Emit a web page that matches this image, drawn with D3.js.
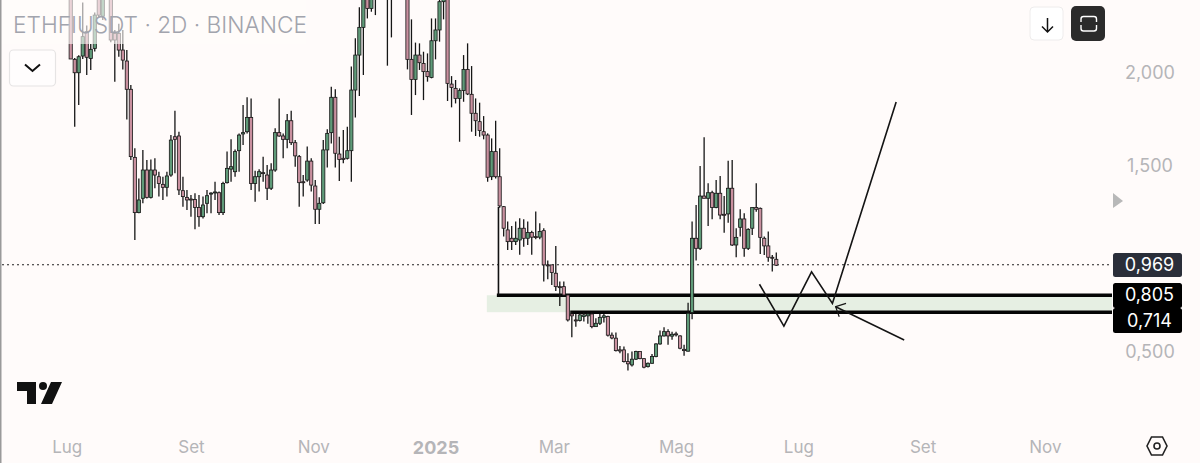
<!DOCTYPE html>
<html><head><meta charset="utf-8">
<script src="https://cdn.jsdelivr.net/npm/d3@7"></script>
<style>html,body{margin:0;padding:0;background:#fffbfa;overflow:hidden}svg{display:block}text{font-family:Inter,"Noto Sans",sans-serif}</style>
</head><body><svg id="c" width="1200" height="463"></svg>
<script>
const opens=[2.45,2.068,1.996,2.086,2.217,2.073,2.127,2.40,2.30,2.45,2.50,2.208,2.208,2.118,2.059,1.907,1.541,1.244,1.321,1.473,1.326,1.473,1.437,1.396,1.38,1.446,1.652,1.656,1.362,1.326,1.317,1.315,1.272,1.222,1.294,1.344,1.351,1.351,1.244,1.405,1.478,1.464,1.577,1.667,1.679,1.756,1.401,1.437,1.459,1.446,1.375,1.473,1.674,1.656,1.638,1.738,1.62,1.545,
1.41,1.419,1.521,1.387,1.262,1.297,1.581,1.674,1.864,1.559,1.536,1.536,1.577,1.903,2.091,2.24,2.46,2.342,2.42,2.44,2.52,2.48,2.39,2.42,2.55,2.6,2.58,2.068,1.96,2.091,2.046,2.002,1.971,2.168,2.226,2.378,2.39,1.935,1.912,1.858,1.9,2.014,1.88,1.778,1.733,1.679,1.661,1.437,1.572,1.437,
1.276,1.151,1.106,1.088,1.097,1.16,1.106,1.137,1.115,1.112,1.147,.963,.963,.918,.846,.846,.801,.699,.667,.664,.685,.689,.699,.631,.649,.681,.685,.585,.569,.506,.506,.443,.425,.456,.497,.459,.416,.434,.47,.538,.581,.604,.58,.592,.581,.509,.499,.707,
1.106,1.052,1.333,1.321,1.351,1.272,1.348,1.235,1.237,1.375,1.07,1.165,1.21,1.052,1.16,1.271,1.267,1.106,1.065,1.004,.993];
const highs=[2.50,2.075,2.09,2.373,2.25,2.15,2.32,2.45,2.5,2.55,2.55,2.226,2.26,2.226,2.118,1.93,1.59,1.428,1.581,1.527,1.53,1.536,1.464,1.437,1.464,1.661,1.792,1.679,1.437,1.366,1.339,1.348,1.339,1.33,1.366,1.353,1.41,1.357,1.41,1.572,1.638,1.584,1.67,1.822,1.864,1.858,1.469,1.477,1.545,1.5,1.509,1.697,1.858,1.67,1.774,1.792,1.634,1.554,
1.446,1.599,1.536,1.419,1.326,1.634,1.692,1.921,1.907,1.652,1.688,1.706,2.029,2.181,2.348,2.45,2.55,2.5,2.5,2.6,2.62,2.55,2.5,2.7,2.75,2.7,2.62,2.283,2.158,2.154,2.109,2.1,2.288,2.288,2.42,2.45,2.45,1.978,1.957,1.912,2.091,2.154,2.032,1.858,1.835,1.763,1.67,1.643,1.738,1.59,
1.28,1.196,1.172,1.196,1.214,1.208,1.196,1.147,1.25,1.187,1.16,.986,.963,1.065,.873,.873,.807,.712,.699,.703,.707,.707,.707,.676,.699,.699,.689,.599,.599,.527,.524,.488,.497,.502,.497,.461,.438,.484,.542,.61,.628,.617,.604,.604,.585,.533,.76,1.196,
1.285,1.495,1.649,1.402,1.362,1.419,1.441,1.333,1.523,1.527,1.16,1.262,1.24,1.16,1.272,1.402,1.271,1.115,1.142,1.016,1.029];
const lows=[2.07,1.706,1.822,2.07,1.984,2.011,2.11,2.29,2.28,2.40,2.16,1.948,2.082,2.014,1.745,1.527,1.097,1.24,1.294,1.32,1.32,1.375,1.33,1.312,1.33,1.437,1.455,1.339,1.276,1.258,1.222,1.154,1.168,1.213,1.24,1.24,1.312,1.231,1.231,1.401,1.41,1.437,1.464,1.607,1.67,1.366,1.303,1.357,1.41,1.312,1.366,1.464,1.652,1.536,1.59,1.607,1.491,1.276,
1.33,1.41,1.357,1.183,1.183,1.29,1.486,1.616,1.486,1.414,1.509,1.53,1.41,1.756,1.871,1.984,2.288,2.324,2.306,2.40,2.42,2.034,2.186,2.40,2.45,2.45,2.014,1.769,1.876,2.011,1.849,1.948,1.966,2.068,2.163,2.283,1.844,1.81,1.831,1.625,1.84,1.876,1.679,1.656,1.652,1.638,1.41,1.419,1.428,1.27,
1.115,1.043,1.043,1.07,1.017,1.061,1.07,1.017,1.101,1.101,.873,.886,.855,.823,.742,.796,.658,.574,.631,.658,.658,.646,.622,.631,.64,.653,.578,.563,.497,.488,.438,.395,.416,.452,.456,.407,.411,.431,.466,.533,.578,.533,.56,.578,.509,.474,.497,.671,
.986,1.043,1.321,1.172,1.208,1.267,1.208,1.136,1.19,1.065,1.004,1.115,1.007,1.043,1.124,1.249,1.022,1.016,.98,.927,.957];
const closes=[2.07,1.996,2.082,2.19,2.079,2.122,2.306,2.306,2.45,2.5,2.172,2.172,2.118,2.064,1.907,1.545,1.244,1.312,1.473,1.326,1.473,1.446,1.401,1.38,1.441,1.634,1.638,1.366,1.33,1.312,1.312,1.272,1.222,1.285,1.335,1.349,1.355,1.244,1.401,1.482,1.491,1.572,1.661,1.674,1.756,1.401,1.437,1.464,1.455,1.375,1.473,1.674,1.656,1.638,1.738,1.62,1.549,1.405,
1.406,1.521,1.392,1.262,1.294,1.581,1.67,1.864,1.563,1.53,1.53,1.577,1.903,2.091,2.24,2.39,2.342,2.42,2.44,2.52,2.48,2.39,2.40,2.55,2.6,2.58,2.068,1.96,2.091,2.05,2.002,1.975,2.168,2.226,2.378,2.39,1.939,1.917,1.858,1.9,2.014,1.882,1.778,1.738,1.685,1.661,1.434,1.572,1.437,1.28,
1.16,1.088,1.088,1.106,1.16,1.106,1.137,1.112,1.11,1.142,.963,.959,.922,.846,.844,.801,.667,.689,.662,.694,.694,.699,.631,.649,.681,.689,.585,.57,.502,.5,.443,.431,.456,.497,.459,.413,.434,.47,.538,.581,.604,.581,.59,.588,.515,.502,.703,1.106,
1.052,1.333,1.321,1.351,1.272,1.348,1.231,1.231,1.375,1.07,1.111,1.21,1.052,1.154,1.271,1.262,1.111,1.065,1.004,1,.961];
const zoneHigh=0.805, zoneLow=0.714, lastPrice=0.969;
const priceTicks=[2,1.5,0.5];
const monthTicks=["2024-07-01","2024-09-01","2024-11-01","2025-01-01","2025-03-01","2025-05-01","2025-07-01","2025-09-01","2025-11-01"];
const monthLabels=["Lug","Set","Nov","2025","Mar","Mag","Lug","Set","Nov"];
const zigzagIdx=[171.8,177.9,184.8,190,205.9], zigzagPrice=[.859,.634,.926,.756,1.839];
const arrowIdx=[207.9,190.8], arrowPrice=[.559,.738];
const arrowHeadIdx=[193.4,190.8,191.7], arrowHeadPrice=[.756,.738,.684];
const stemIdx=106.7, stemPrice=[1.28,.805];
const zoneStartIdx=103.8, line1StartIdx=106.3, line2StartIdx=124.6;
const fmt=v=>v.toFixed(3).replace(".",",");

const DAY=864e5, start=Date.UTC(2024,6,3);
const at=i=>new Date(start+i*2*DAY);
const plotR=1112, pr=(plotR-70.7)/4.009;
const x=d3.scaleUtc().domain([at(0),at(pr)]).range([70.7,plotR]);
const xi=i=>x(at(i));
const y=d3.scaleLinear().domain([0.5,2]).range([351,72]);
const svg=d3.select("#c");
const G="#5f9a78",P="#c9909f",W="#161616";
svg.append("rect").attr("x",0).attr("y",0).attr("width",1.5).attr("height",463).attr("fill","#9a9a9a");
const levels=svg.append("g").attr("transform","translate(0,1)");
levels.append("rect").attr("x",xi(zoneStartIdx)).attr("width",plotR-xi(zoneStartIdx)).attr("y",y(zoneHigh)).attr("height",y(zoneLow)-y(zoneHigh)).attr("fill","#e6efe3");
levels.append("line").attr("x1",2).attr("x2",plotR).attr("y1",y(lastPrice)).attr("y2",y(lastPrice)).attr("stroke","#222").attr("stroke-width",1.2).attr("stroke-dasharray","2 3");
[[line1StartIdx,zoneHigh],[line2StartIdx,zoneLow]].forEach(([i,p])=>levels.append("line").attr("x1",xi(i)).attr("x2",plotR).attr("y1",y(p)).attr("y2",y(p)).attr("stroke","#050505").attr("stroke-width",3.4));
levels.append("line").attr("x1",xi(stemIdx)).attr("x2",xi(stemIdx)).attr("y1",y(stemPrice[0])).attr("y2",y(stemPrice[1])).attr("stroke","#111").attr("stroke-width",1.6);
const candles=svg.append("g");
opens.forEach((o,i)=>{
  const c=closes[i],cx=xi(i),up=c>=o;
  candles.append("line").attr("x1",cx).attr("x2",cx).attr("y1",y(highs[i])).attr("y2",y(lows[i])).attr("stroke",W).attr("stroke-width",1.3);
  const t=y(Math.max(o,c)),h=Math.max(1,Math.abs(y(o)-y(c)));
  candles.append("rect").attr("x",cx-1.6).attr("width",3.2).attr("y",t).attr("height",h).attr("fill",up?G:P).attr("stroke",W).attr("stroke-width",.8);
});
const ln=d3.line();
const path=(is,ps,w)=>svg.append("path").attr("d",ln(is.map((k,j)=>[xi(k),y(ps[j])]))).attr("fill","none").attr("stroke","#141414").attr("stroke-width",w).attr("stroke-linejoin","miter");
path(zigzagIdx,zigzagPrice,1.6);
path(arrowIdx,arrowPrice,1.5);
path(arrowHeadIdx,arrowHeadPrice,1.2);
svg.append("rect").attr("x",2).attr("y",0).attr("width",304).attr("height",44).attr("fill","#fffbfa").attr("opacity",.62);
svg.append("text").attr("x",13).attr("y",33).attr("font-size",22.7).attr("font-weight",300).attr("fill","#a2a4ad").text("ETHFIUSDT · 2D · BINANCE");
const yAxis=d3.axisRight(y).tickValues(priceTicks).tickSize(0).tickPadding(0).tickFormat(fmt);
const ya=svg.append("g").attr("transform","translate(1150,0.5)").call(yAxis);
ya.select(".domain").remove();
ya.selectAll("text").attr("text-anchor","middle").attr("font-size",18).attr("font-family","Inter").attr("fill","#b5b5b8");
const xAxis=d3.axisBottom(x).tickValues(monthTicks.map(d=>new Date(d))).tickSize(0).tickPadding(0).tickFormat((d,i)=>monthLabels[i]);
const xa=svg.append("g").attr("transform","translate(0,441)").call(xAxis);
xa.select(".domain").remove();
xa.selectAll("text").attr("font-size",(d,i)=>monthLabels[i]==="2025"?18:17).attr("font-family","Inter").attr("fill","#b5b5b8").attr("font-weight",(d,i)=>monthLabels[i]==="2025"?700:400);
const tags=[["#2a2e39",253,24],["#000",283,25],["#000",308,25]];
tags.forEach(([f,t,h])=>svg.append("rect").attr("x",1113).attr("y",t).attr("width",69).attr("height",h).attr("rx",2.5).attr("fill",f));
[lastPrice,zoneHigh,zoneLow].forEach((p,i)=>svg.append("text").attr("x",1149.5).attr("y",[264.5,295,320.5][i]).attr("dy","0.36em").attr("text-anchor","middle").attr("font-size",18).attr("fill","#fff").text(fmt(p)));
svg.append("path").attr("d","M1113 193L1123 201L1113 208Z").attr("fill","#b8b8b8");
svg.append("rect").attr("x",9.5).attr("y",50).attr("width",46).attr("height",36).attr("rx",4).attr("fill","#fffdfd").attr("stroke","#e6e4e4").attr("stroke-width",1.2);
svg.append("path").attr("d","M25 64.500L32.500 71L40 64.500").attr("fill","none").attr("stroke","#111").attr("stroke-width",2);
svg.append("rect").attr("x",1030).attr("y",7).attr("width",33).attr("height",33).attr("rx",4).attr("fill","#fff").attr("stroke","#eeecec").attr("stroke-width",1);
svg.append("path").attr("d","M1047.500 18V32M1042 26.500L1047.500 32L1053 26.500").attr("fill","none").attr("stroke","#111").attr("stroke-width",1.5);
svg.append("rect").attr("x",1071).attr("y",6).attr("width",34).attr("height",35).attr("rx",5).attr("fill","#2b2b2b");
svg.append("path").attr("d","M1081 22V19Q1081 16.500 1083.500 16.500H1094Q1096.500 16.500 1096.500 19V22M1081 25V28.500Q1081 31 1083.500 31H1094Q1096.500 31 1096.500 28.500V25").attr("fill","none").attr("stroke","#fff").attr("stroke-width",1.4);
svg.append("path").attr("d","M17 382H36V404H27V391H17ZM51 382H62L52 404H41Z").attr("fill","#111");
svg.append("circle").attr("cx",43).attr("cy",386).attr("r",4).attr("fill","#111");
svg.append("path").attr("d","M1151.500 437H1162.500L1167 446L1162.500 455H1151.500L1147 446Z").attr("fill","none").attr("stroke","#222").attr("stroke-width",1.6);
svg.append("circle").attr("cx",1157).attr("cy",446).attr("r",3).attr("fill","none").attr("stroke","#222").attr("stroke-width",1.6);
</script></body></html>
